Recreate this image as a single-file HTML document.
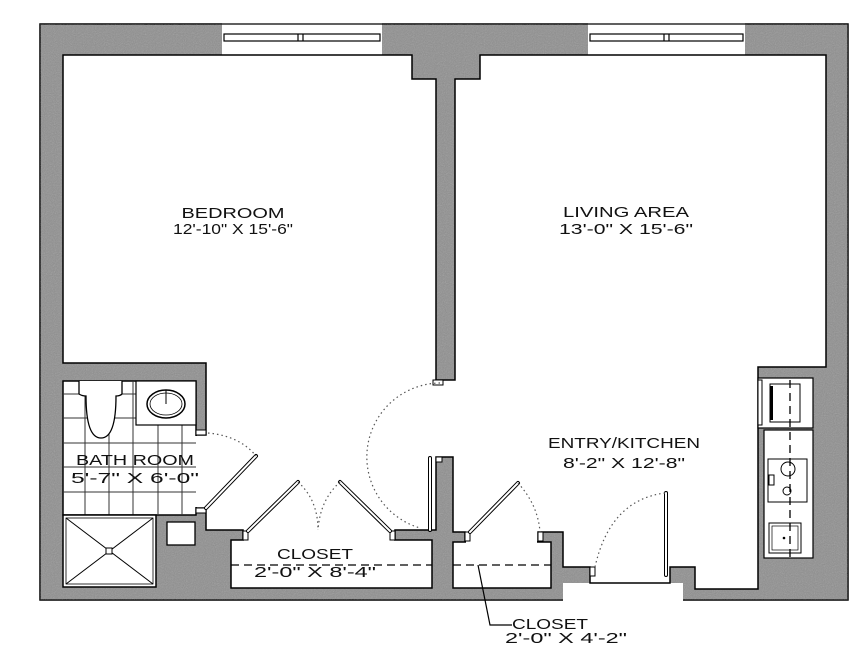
<!DOCTYPE html>
<html><head><meta charset="utf-8"><style>
html,body{margin:0;padding:0;background:#fff;}
svg{display:block}
text{font-family:"Liberation Sans",sans-serif;font-size:15px;fill:#111;}
</style></head><body>
<svg width="867" height="647" viewBox="0 0 867 647" xmlns="http://www.w3.org/2000/svg">
<defs>
<filter id="g" x="0" y="0" width="100%" height="100%">
<feTurbulence type="fractalNoise" baseFrequency="0.9" numOctaves="2" result="n"/>
<feColorMatrix type="saturate" values="0"/>
<feComponentTransfer><feFuncA type="table" tableValues="0 0.35"/></feComponentTransfer>
</filter>
</defs>
<!-- outer gray -->
<rect x="40" y="24" width="808" height="576" fill="#8e8e8e" stroke="#000" stroke-width="1.5"/>
<rect x="40" y="24" width="808" height="576" filter="url(#g)"/>
<!-- outside notch below entry -->
<rect x="563" y="583" width="120" height="20" fill="#fff"/>
<rect x="590" y="566" width="80" height="20" fill="#fff"/>
<!-- windows -->
<rect x="222" y="22" width="160" height="33" fill="#fff"/>
<rect x="588" y="22" width="157" height="33" fill="#fff"/>
<g fill="none" stroke="#000" stroke-width="1.2">
<line x1="222" y1="24" x2="382" y2="24"/><line x1="588" y1="24" x2="745" y2="24"/>
<rect x="224" y="34" width="156" height="7"/><rect x="590" y="34" width="153" height="7"/>
<line x1="298" y1="34" x2="298" y2="41"/><line x1="303" y1="34" x2="303" y2="41"/>
<line x1="664" y1="34" x2="664" y2="41"/><line x1="669" y1="34" x2="669" y2="41"/>
</g>
<!-- main interior -->
<polygon fill="#fff" stroke="#000" stroke-width="1.5" points="63,55 412,55 412,79 436,79 436,380 455,380 455,79 480,79 480,55 826,55 826,367 758,367 758,589 695,589 695,567 670,567 670,583 590,583 590,567 563,567 563,532 538,532 538,542 465,542 465,532 453,532 453,457 436,457 436,530 395,530 395,540 243,540 243,530 206,530 206,508 196,508 196,435 206,435 206,363 63,363"/>
<!-- bath -->
<rect x="63" y="381" width="133" height="134" fill="#fff" stroke="#000" stroke-width="1.5"/>
<rect x="194" y="436" width="13" height="71" fill="#fff"/>
<g stroke="#333" stroke-width="1">
<line x1="85" y1="381" x2="85" y2="515"/><line x1="109" y1="381" x2="109" y2="515"/><line x1="133" y1="381" x2="133" y2="515"/><line x1="158" y1="425" x2="158" y2="515"/><line x1="182" y1="425" x2="182" y2="515"/>
<line x1="63" y1="394" x2="136" y2="394"/><line x1="63" y1="418" x2="136" y2="418"/><line x1="63" y1="443" x2="196" y2="443"/><line x1="63" y1="467" x2="196" y2="467"/><line x1="63" y1="492" x2="196" y2="492"/>
</g>
<rect x="136" y="381" width="60" height="44" fill="#fff" stroke="#000" stroke-width="1.2"/>
<ellipse cx="166" cy="404" rx="19" ry="14" fill="none" stroke="#000" stroke-width="1.5"/>
<ellipse cx="166" cy="404" rx="16" ry="11" fill="none" stroke="#000" stroke-width="0.8"/>
<line x1="166" y1="390" x2="166" y2="404" stroke="#000"/>
<path d="M79,381 L79,394 Q82,396 86,396 Q86,438 101,438 Q116,438 116,396 Q120,396 122,394 L122,381" fill="#fff" stroke="#000" stroke-width="1.3"/>
<rect x="63" y="515" width="93" height="72" fill="#fff" stroke="#000" stroke-width="1.5"/>
<rect x="66" y="518" width="87" height="66" fill="none" stroke="#000" stroke-width="0.8"/>
<line x1="66" y1="518" x2="153" y2="584" stroke="#000"/><line x1="153" y1="518" x2="66" y2="584" stroke="#000"/>
<rect x="106" y="548" width="6" height="6" fill="#fff" stroke="#000"/>
<rect x="167" y="522" width="28" height="23" fill="#fff" stroke="#000" stroke-width="1.3"/>
<!-- closets -->
<rect x="231" y="540" width="201" height="48" fill="#fff" stroke="#000" stroke-width="1.5"/>
<rect x="244" y="535" width="150" height="10" fill="#fff"/>
<rect x="453" y="542" width="98" height="46" fill="#fff" stroke="#000" stroke-width="1.5"/>
<rect x="466" y="537" width="71" height="9" fill="#fff"/>
<g stroke="#000" stroke-width="1.3" stroke-dasharray="8,5">
<line x1="231" y1="565" x2="432" y2="565"/><line x1="453" y1="565" x2="551" y2="565"/>
<line x1="790" y1="380" x2="790" y2="558"/>
</g>
<!-- jambs -->
<g fill="#fff" stroke="#000" stroke-width="1">
<rect x="196" y="430" width="10" height="5"/><rect x="196" y="508" width="10" height="5"/>
<rect x="243" y="531" width="5" height="9"/><rect x="390" y="531" width="5" height="9"/>
<rect x="433" y="380" width="10" height="5"/><rect x="436" y="457" width="6" height="5"/>
<rect x="465" y="532" width="5" height="9"/><rect x="538" y="532" width="5" height="9"/>
<rect x="590" y="567" width="5" height="9"/>
</g>
<!-- door leaves -->
<g stroke="#000" stroke-width="4" stroke-linecap="round"><line x1="206" y1="508" x2="256" y2="456"/><line x1="248" y1="531" x2="298" y2="482"/><line x1="340" y1="482" x2="390" y2="531"/><line x1="470" y1="532" x2="518" y2="483"/><line x1="430" y1="458" x2="430" y2="530"/><line x1="666" y1="493" x2="666" y2="575"/></g>
<g stroke="#fff" stroke-width="2" stroke-linecap="round"><line x1="206" y1="508" x2="256" y2="456"/><line x1="248" y1="531" x2="298" y2="482"/><line x1="340" y1="482" x2="390" y2="531"/><line x1="470" y1="532" x2="518" y2="483"/><line x1="430" y1="458" x2="430" y2="530"/><line x1="666" y1="493" x2="666" y2="575"/></g>
<!-- swing arcs -->
<g fill="none" stroke="#555" stroke-width="1.2" stroke-dasharray="1.5,3">
<path d="M208,433 Q240,436 256,456"/>
<path d="M298,482 Q318,500 318,530"/><path d="M340,482 Q320,500 318,530"/>
<path d="M440,383 A74,74 0 0 0 420,528"/>
<path d="M518,483 Q538,505 540,532"/>
<path d="M595,567 Q610,500 665,493"/>
</g>
<!-- kitchen -->
<rect x="758" y="378" width="55" height="50" fill="#fff" stroke="#000" stroke-width="1.2"/>
<rect x="770" y="384" width="30" height="38" fill="none" stroke="#000"/>
<rect x="758" y="380" width="4" height="45" fill="#fff" stroke="#000"/>
<rect x="770" y="386" width="3" height="34" fill="#000"/>
<rect x="764" y="430" width="49" height="128" fill="#fff" stroke="#000" stroke-width="1.2"/>
<rect x="768" y="459" width="39" height="43" fill="none" stroke="#000"/>
<circle cx="788" cy="469" r="7" fill="none" stroke="#000"/><circle cx="787" cy="491" r="4" fill="none" stroke="#000"/>
<rect x="769" y="475" width="5" height="10" fill="none" stroke="#000"/>
<rect x="769" y="523" width="32" height="30" fill="none" stroke="#000"/><rect x="772" y="526" width="26" height="24" fill="none" stroke="#000" stroke-width="0.7"/>
<circle cx="784" cy="538" r="1.3" fill="#000"/>
<line x1="790" y1="380" x2="790" y2="558" stroke="#000" stroke-width="1.3" stroke-dasharray="8,5"/>
<!-- leader -->
<polyline points="478,565 490,625 512,625" fill="none" stroke="#000" stroke-width="1.2"/>
<!-- labels -->
<g text-anchor="middle">
<text x="233" y="218" textLength="103" lengthAdjust="spacingAndGlyphs">BEDROOM</text>
<text x="233" y="234" textLength="120" lengthAdjust="spacingAndGlyphs">12'-10" X 15'-6"</text>
<text x="626" y="217" textLength="126" lengthAdjust="spacingAndGlyphs">LIVING AREA</text>
<text x="626" y="234" textLength="134" lengthAdjust="spacingAndGlyphs">13'-0" X 15'-6"</text>
<text x="624" y="448" textLength="152" lengthAdjust="spacingAndGlyphs">ENTRY/KITCHEN</text>
<text x="624" y="468" textLength="122" lengthAdjust="spacingAndGlyphs">8'-2" X 12'-8"</text>
<text x="135" y="465" textLength="118" lengthAdjust="spacingAndGlyphs">BATH ROOM</text>
<text x="135" y="483" textLength="128" lengthAdjust="spacingAndGlyphs">5'-7" X 6'-0"</text>
<text x="315" y="559" textLength="76" lengthAdjust="spacingAndGlyphs">CLOSET</text>
<text x="315" y="577" textLength="122" lengthAdjust="spacingAndGlyphs">2'-0" X 8'-4"</text>
</g>
<text x="512" y="629" textLength="76" lengthAdjust="spacingAndGlyphs">CLOSET</text>
<text x="505" y="643" textLength="122" lengthAdjust="spacingAndGlyphs">2'-0" X 4'-2"</text>
</svg>
</body></html>
